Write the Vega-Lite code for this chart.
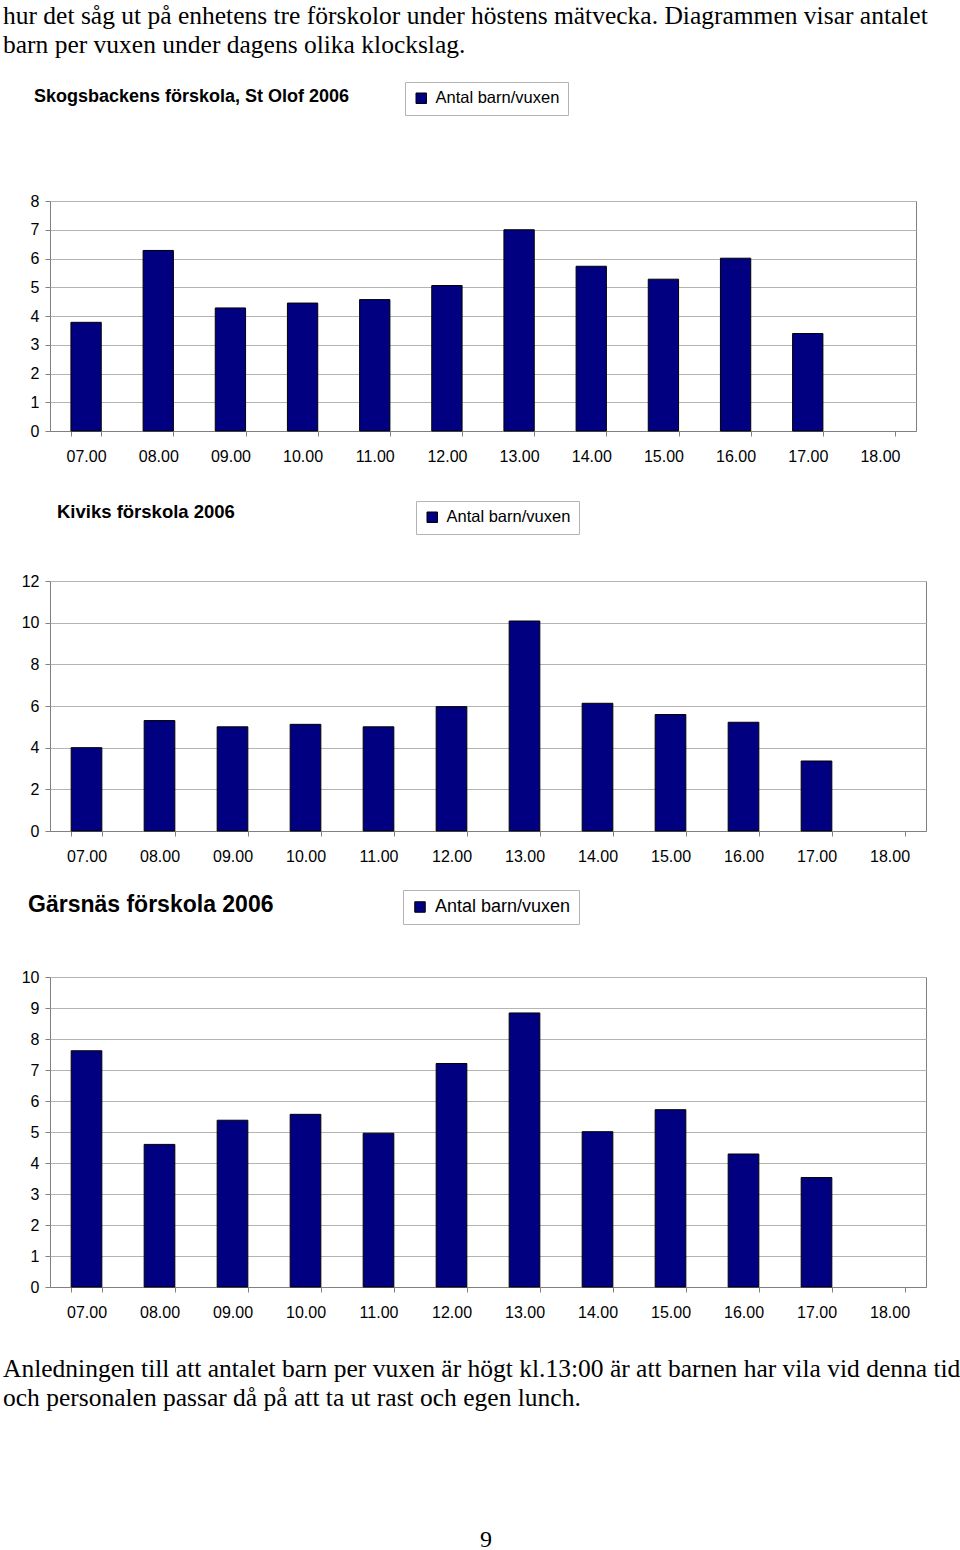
{
  "$schema": "https://vega.github.io/schema/vega-lite/v6.json",
  "padding": {"left": 3, "top": 4, "right": 0, "bottom": 0},
  "background": "white",
  "config": {
    "font": "Liberation Sans",
    "view": {"stroke": "#808080", "strokeWidth": 1},
    "axisX": {"tickBand": "extent", "domainColor": "#808080", "tickColor": "#808080", "tickSize": 5, "labelPadding": 12, "labelFontSize": 16, "labelColor": "black", "grid": false, "labelAngle": 0, "labelFont": "Liberation Sans"},
    "axisY": {"grid": true, "gridColor": "#b4b4b4", "domain": false, "tickColor": "#808080", "tickSize": 5, "labelPadding": 6, "labelFontSize": 16, "labelColor": "black", "labelFont": "Liberation Sans"},
    "legend": {"strokeColor": "#b4b4b4", "padding": 8, "symbolType": "square", "symbolSize": 110, "symbolStrokeColor": "black", "symbolStrokeWidth": 1, "labelFont": "Liberation Sans", "labelColor": "black", "title": null, "labelOffset": 6},
    "title": {"anchor": "start", "frame": "group", "font": "Liberation Sans", "fontWeight": "bold", "color": "black"}
  },
  "title": {"text": ["hur det såg ut på enhetens tre förskolor under höstens mätvecka. Diagrammen visar antalet", "barn per vuxen under dagens olika klockslag."], "anchor": "start", "frame": "bounds", "font": "Liberation Serif", "fontSize": 25.5, "fontWeight": "normal", "lineHeight": 28.5, "offset": 23, "color": "black"},
  "resolve": {"scale": {"color": "independent"}, "legend": {"color": "independent"}},
  "spacing": 35,
  "vconcat": [
    {
      "width": 866, "height": 230,
      "title": {"text": "Skogsbackens förskola, St Olof 2006", "dx": -16, "fontSize": 18, "offset": -24},
      "data": {"values": [
        {"tid": "07.00", "antal": 3.78},
        {"tid": "08.00", "antal": 6.28},
        {"tid": "09.00", "antal": 4.28},
        {"tid": "10.00", "antal": 4.45},
        {"tid": "11.00", "antal": 4.57},
        {"tid": "12.00", "antal": 5.06},
        {"tid": "13.00", "antal": 7.0},
        {"tid": "14.00", "antal": 5.73},
        {"tid": "15.00", "antal": 5.28},
        {"tid": "16.00", "antal": 6.01},
        {"tid": "17.00", "antal": 3.39}
      ]},
      "mark": {"type": "bar", "stroke": "black", "strokeWidth": 1},
      "encoding": {
        "x": {"field": "tid", "type": "ordinal", "title": null, "scale": {"domain": ["07.00","08.00","09.00","10.00","11.00","12.00","13.00","14.00","15.00","16.00","17.00","18.00"], "paddingInner": 0.58, "paddingOuter": 0.29}},
        "y": {"field": "antal", "type": "quantitative", "title": null, "scale": {"domain": [0, 8], "nice": false}, "axis": {"values": [0,1,2,3,4,5,6,7,8]}},
        "color": {"datum": "Antal barn/vuxen", "type": "nominal", "scale": {"range": ["#000080"]}, "legend": {"orient": "none", "legendX": 355, "legendY": -119, "labelFontSize": 16.5}}
      }
    },
    {
      "spacing": 24,
      "resolve": {"scale": {"color": "independent"}, "legend": {"color": "independent"}},
      "vconcat": [
        {
          "width": 876, "height": 250,
          "title": {"text": "Kiviks förskola 2006", "dx": 7, "fontSize": 18.5, "offset": -21},
          "data": {"values": [
            {"tid": "07.00", "antal": 4.0},
            {"tid": "08.00", "antal": 5.3},
            {"tid": "09.00", "antal": 5.0},
            {"tid": "10.00", "antal": 5.12},
            {"tid": "11.00", "antal": 5.0},
            {"tid": "12.00", "antal": 5.97},
            {"tid": "13.00", "antal": 10.08},
            {"tid": "14.00", "antal": 6.13},
            {"tid": "15.00", "antal": 5.59},
            {"tid": "16.00", "antal": 5.22},
            {"tid": "17.00", "antal": 3.36}
          ]},
          "mark": {"type": "bar", "stroke": "black", "strokeWidth": 1},
          "encoding": {
            "x": {"field": "tid", "type": "ordinal", "title": null, "scale": {"domain": ["07.00","08.00","09.00","10.00","11.00","12.00","13.00","14.00","15.00","16.00","17.00","18.00"], "paddingInner": 0.58, "paddingOuter": 0.29}},
            "y": {"field": "antal", "type": "quantitative", "title": null, "scale": {"domain": [0, 12], "nice": false}, "axis": {"values": [0,2,4,6,8,10,12]}},
            "color": {"datum": "Antal barn/vuxen", "type": "nominal", "scale": {"range": ["#000080"]}, "legend": {"orient": "none", "legendX": 366, "legendY": -80, "labelFontSize": 16.5}}
          }
        },
        {
          "width": 876, "height": 310,
          "title": {"text": "Gärsnäs förskola 2006", "dx": -22, "fontSize": 23, "offset": -27},
          "data": {"values": [
            {"tid": "07.00", "antal": 7.62},
            {"tid": "08.00", "antal": 4.6},
            {"tid": "09.00", "antal": 5.38},
            {"tid": "10.00", "antal": 5.57},
            {"tid": "11.00", "antal": 4.96},
            {"tid": "12.00", "antal": 7.21},
            {"tid": "13.00", "antal": 8.84},
            {"tid": "14.00", "antal": 5.01},
            {"tid": "15.00", "antal": 5.72},
            {"tid": "16.00", "antal": 4.29},
            {"tid": "17.00", "antal": 3.53}
          ]},
          "mark": {"type": "bar", "stroke": "black", "strokeWidth": 1},
          "encoding": {
            "x": {"field": "tid", "type": "ordinal", "title": null, "scale": {"domain": ["07.00","08.00","09.00","10.00","11.00","12.00","13.00","14.00","15.00","16.00","17.00","18.00"], "paddingInner": 0.58, "paddingOuter": 0.29}},
            "y": {"field": "antal", "type": "quantitative", "title": null, "scale": {"domain": [0, 10], "nice": false}, "axis": {"values": [0,1,2,3,4,5,6,7,8,9,10]}},
            "color": {"datum": "Antal barn/vuxen", "type": "nominal", "scale": {"range": ["#000080"]}, "legend": {"orient": "none", "legendX": 353, "legendY": -87, "labelFontSize": 18}}
          }
        }
      ]
    },
    {
      "width": 872, "height": 20,
      "view": {"stroke": null},
      "title": {"text": ["Anledningen till att antalet barn per vuxen är högt kl.13:00 är att barnen har vila vid denna tid", "och personalen passar då på att ta ut rast och egen lunch."], "dx": -47, "font": "Liberation Serif", "fontSize": 25.5, "fontWeight": "normal", "lineHeight": 29, "offset": 117},
      "data": {"values": [{"sida": "9"}]},
      "mark": {"type": "text", "font": "Liberation Serif", "fontSize": 24, "color": "black"},
      "encoding": {"text": {"field": "sida", "type": "nominal"}}
    }
  ]
}
